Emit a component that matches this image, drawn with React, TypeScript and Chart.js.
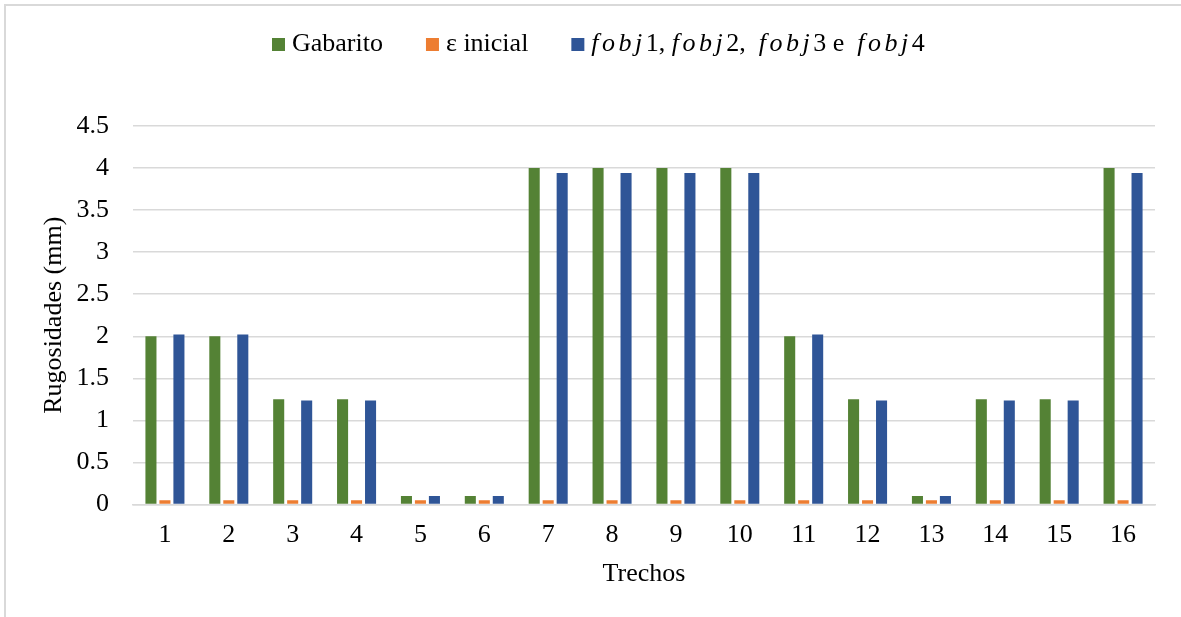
import React, { useEffect, useRef } from "react";
import { Chart, registerables } from "chart.js";

Chart.register(...registerables);

// Trechos (pipe sections) on the x axis
const trechos = ["1", "2", "3", "4", "5", "6", "7", "8", "9", "10", "11", "12", "13", "14", "15", "16"];

// Roughness values in mm
const gabarito = [2, 2, 1.25, 1.25, 0.1, 0.1, 4, 4, 4, 4, 2, 1.25, 0.1, 1.25, 1.25, 4];
const epsInicial = [0.05, 0.05, 0.05, 0.05, 0.05, 0.05, 0.05, 0.05, 0.05, 0.05, 0.05, 0.05, 0.05, 0.05, 0.05, 0.05];
const fobj = [2.02, 2.02, 1.235, 1.235, 0.1, 0.1, 3.94, 3.94, 3.94, 3.94, 2.02, 1.235, 0.1, 1.235, 1.235, 3.94];

const seriesLabels = ["Gabarito", "ε inicial", "fobj1, fobj2,  fobj3 e  fobj4"];
const seriesColors = ["#548235", "#ed7d31", "#2f5597"];

const yTicksMin = 0;
const yTicksMax = 4.5;
const yStep = 0.5;

const FONT = '"Liberation Serif", "Times New Roman", serif';

// Legend with the "fobj" parts set in italic
const mixedLegend = {
  id: "mixedLegend",
  afterDraw(chart: any) {
    const ctx = chart.ctx as CanvasRenderingContext2D;
    let x = 272;
    const y = 44.5;
    chart.data.datasets.forEach((ds: any) => {
      ctx.save();
      ctx.fillStyle = ds.backgroundColor;
      ctx.fillRect(x, y - 6.5, 13, 13);
      x += 20;
      ctx.textBaseline = "middle";
      ctx.textAlign = "left";
      ctx.fillStyle = "#000";
      const parts = String(ds.label).split(/(fobj)/).filter((p) => p.length > 0);
      for (const p of parts) {
        const it = p === "fobj";
        ctx.font = `${it ? "italic " : ""}26px ${FONT}`;
        (ctx as any).letterSpacing = it ? "3.5px" : "0px";
        ctx.fillText(p, x, y);
        x += ctx.measureText(p).width;
      }
      ctx.restore();
      x += 43;
    });
  },
};

export default function App() {
  const canvasRef = useRef<HTMLCanvasElement | null>(null);

  useEffect(() => {
    const canvas = canvasRef.current;
    if (!canvas) return;
    const datasets = [gabarito, epsInicial, fobj].map((data, i) => ({
      label: seriesLabels[i],
      data,
      backgroundColor: seriesColors[i],
      borderWidth: 0,
      categoryPercentage: 0.657,
      barPercentage: 0.79,
    }));
    const chart = new Chart(canvas, {
      type: "bar",
      data: { labels: trechos, datasets },
      options: {
        responsive: false,
        animation: false,
        devicePixelRatio: 1,
        layout: { padding: { top: 126, right: 26, bottom: 0, left: 0 } },
        plugins: {
          legend: { display: false },
          tooltip: { enabled: false },
        },
        scales: {
          x: {
            grid: { display: false, drawTicks: false },
            border: { display: true, color: "#d9d9d9", width: 1.5 },
            ticks: { color: "#000", font: { family: FONT, size: 26 }, padding: 15, maxRotation: 0, autoSkip: false },
            title: {
              display: true,
              text: "Trechos",
              color: "#000",
              font: { family: FONT, size: 26 },
              padding: { top: 0, bottom: 27 },
            },
            afterFit(scale: any) {
              scale.height = 112.5;
            },
          },
          y: {
            min: yTicksMin,
            max: yTicksMax,
            grid: { color: "#d9d9d9", lineWidth: 1.5, drawTicks: false },
            border: { display: false },
            ticks: {
              stepSize: yStep,
              color: "#000",
              font: { family: FONT, size: 26 },
              padding: 24,
              callback: (v: any) => String(Number(v)),
            },
            title: {
              display: true,
              text: "Rugosidades (mm)",
              color: "#000",
              font: { family: FONT, size: 26 },
              padding: { top: 39, bottom: 0 },
            },
            afterFit(scale: any) {
              scale.width = 133;
            },
          },
        },
      },
      plugins: [mixedLegend],
    });
    return () => chart.destroy();
  }, []);

  return (
    <div style={{ position: "fixed", left: 0, top: 0, width: 1181, height: 617, background: "#fff", overflow: "hidden" }}>
      <div
        style={{
          position: "absolute",
          left: 4,
          top: 4,
          width: 1300,
          height: 800,
          border: "2px solid #d9d9d9",
        }}
      />
      <canvas ref={canvasRef} width={1181} height={617} style={{ position: "absolute", left: 0, top: 0 }} />
    </div>
  );
}
